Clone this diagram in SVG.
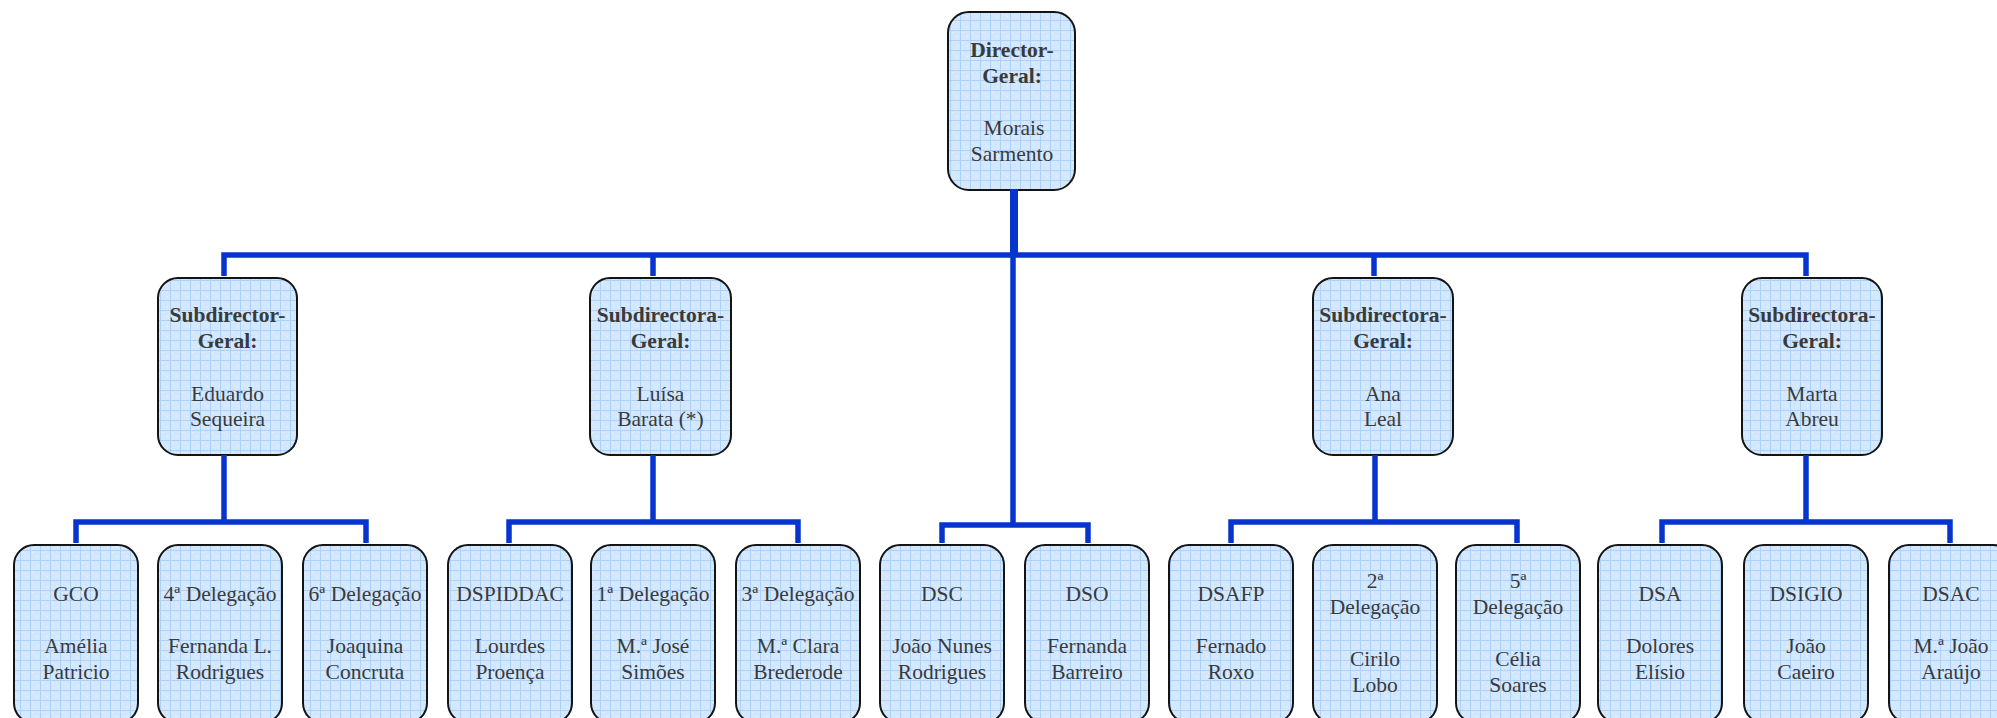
<svg xmlns="http://www.w3.org/2000/svg" width="1997" height="718" viewBox="0 0 1997 718">
<style>
.box{fill:url(#grid);stroke:#141414;stroke-width:2}
text{font-family:"Liberation Serif","Times New Roman",serif;font-size:21.5px;fill:#3a3a3a;text-anchor:middle}
.b{font-weight:bold}
.c{fill:none;stroke:#0634cc;stroke-width:5.5;stroke-linejoin:miter;stroke-linecap:butt}
</style>
<defs>
<pattern id="grid" width="10" height="10" patternUnits="userSpaceOnUse">
<rect width="10" height="10" fill="#d3e8ff"/>
<rect x="2" y="2" width="1" height="1" fill="#ffffff" opacity="0.5"/>
<rect x="7" y="6" width="1" height="1" fill="#ffffff" opacity="0.5"/>
<path d="M0 0.5H10M0.5 0V10" stroke="#add2f9" stroke-width="1"/>
</pattern>
</defs>
<rect width="1997" height="718" fill="#ffffff"/>

<g id="n-dg">
<rect class="box" x="948" y="12" width="127" height="178" rx="21"/>
<text x="1012" y="57" class="b">Director-</text>
<text x="1012" y="82.5" class="b">Geral:</text>
<text x="1014" y="135">Morais</text>
<text x="1012" y="160.5">Sarmento</text>
</g>

<g id="n-sdg1">
<rect class="box" x="158" y="278" width="139" height="177" rx="20"/>
<text x="227.5" y="322" class="b">Subdirector-</text>
<text x="227.5" y="347.5" class="b">Geral:</text>
<text x="227.5" y="400.5">Eduardo</text>
<text x="227.5" y="426">Sequeira</text>
</g>
<g id="n-sdg2">
<rect class="box" x="590" y="278" width="141" height="177" rx="20"/>
<text x="660.5" y="322" class="b">Subdirectora-</text>
<text x="660.5" y="347.5" class="b">Geral:</text>
<text x="660.5" y="400.5">Luísa</text>
<text x="660.5" y="426">Barata (*)</text>
</g>
<g id="n-sdg3">
<rect class="box" x="1313" y="278" width="140" height="177" rx="20"/>
<text x="1383" y="322" class="b">Subdirectora-</text>
<text x="1383" y="347.5" class="b">Geral:</text>
<text x="1383" y="400.5">Ana</text>
<text x="1383" y="426">Leal</text>
</g>
<g id="n-sdg4">
<rect class="box" x="1742" y="278" width="140" height="177" rx="20"/>
<text x="1812" y="322" class="b">Subdirectora-</text>
<text x="1812" y="347.5" class="b">Geral:</text>
<text x="1812" y="400.5">Marta</text>
<text x="1812" y="426">Abreu</text>
</g>

<g id="n-gco">
<rect class="box" x="14" y="545" width="124" height="178" rx="20"/>
<text x="76" y="601">GCO</text>
<text x="76" y="653">Amélia</text>
<text x="76" y="679">Patricio</text>
</g>
<g id="n-d4">
<rect class="box" x="158" y="545" width="124" height="178" rx="20"/>
<text x="220" y="601">4ª Delegação</text>
<text x="220" y="653">Fernanda L.</text>
<text x="220" y="679">Rodrigues</text>
</g>
<g id="n-d6">
<rect class="box" x="303" y="545" width="124" height="178" rx="20"/>
<text x="365" y="601">6ª Delegação</text>
<text x="365" y="653">Joaquina</text>
<text x="365" y="679">Concruta</text>
</g>
<g id="n-dspiddac">
<rect class="box" x="448" y="545" width="124" height="178" rx="20"/>
<text x="510" y="601">DSPIDDAC</text>
<text x="510" y="653">Lourdes</text>
<text x="510" y="679">Proença</text>
</g>
<g id="n-d1">
<rect class="box" x="591" y="545" width="124" height="178" rx="20"/>
<text x="653" y="601">1ª Delegação</text>
<text x="653" y="653">M.ª José</text>
<text x="653" y="679">Simões</text>
</g>
<g id="n-d3">
<rect class="box" x="736" y="545" width="124" height="178" rx="20"/>
<text x="798" y="601">3ª Delegação</text>
<text x="798" y="653">M.ª Clara</text>
<text x="798" y="679">Brederode</text>
</g>
<g id="n-dsc">
<rect class="box" x="880" y="545" width="124" height="178" rx="20"/>
<text x="942" y="601">DSC</text>
<text x="942" y="653">João Nunes</text>
<text x="942" y="679">Rodrigues</text>
</g>
<g id="n-dso">
<rect class="box" x="1025" y="545" width="124" height="178" rx="20"/>
<text x="1087" y="601">DSO</text>
<text x="1087" y="653">Fernanda</text>
<text x="1087" y="679">Barreiro</text>
</g>
<g id="n-dsafp">
<rect class="box" x="1169" y="545" width="124" height="178" rx="20"/>
<text x="1231" y="601">DSAFP</text>
<text x="1231" y="653">Fernado</text>
<text x="1231" y="679">Roxo</text>
</g>
<g id="n-d2">
<rect class="box" x="1313" y="545" width="124" height="178" rx="20"/>
<text x="1375" y="588">2ª</text>
<text x="1375" y="614">Delegação</text>
<text x="1375" y="666">Cirilo</text>
<text x="1375" y="692">Lobo</text>
</g>
<g id="n-d5">
<rect class="box" x="1456" y="545" width="124" height="178" rx="20"/>
<text x="1518" y="588">5ª</text>
<text x="1518" y="614">Delegação</text>
<text x="1518" y="666">Célia</text>
<text x="1518" y="692">Soares</text>
</g>
<g id="n-dsa">
<rect class="box" x="1598" y="545" width="124" height="178" rx="20"/>
<text x="1660" y="601">DSA</text>
<text x="1660" y="653">Dolores</text>
<text x="1660" y="679">Elísio</text>
</g>
<g id="n-dsigio">
<rect class="box" x="1744" y="545" width="124" height="178" rx="20"/>
<text x="1806" y="601">DSIGIO</text>
<text x="1806" y="653">João</text>
<text x="1806" y="679">Caeiro</text>
</g>
<g id="n-dsac">
<rect class="box" x="1889" y="545" width="124" height="178" rx="20"/>
<text x="1951" y="601">DSAC</text>
<text x="1951" y="653">M.ª João</text>
<text x="1951" y="679">Araújo</text>
</g>

<g id="connectors">
<path class="c" d="M1014 189V255" style="stroke-width:8"/>
<path class="c" d="M224 276V255H1806V276M653 255V276M1374 255V276"/>
<path class="c" d="M1013 255V525"/>
<path class="c" d="M942 543V525H1088V543"/>
<path class="c" d="M224 455V522M76 543V522H366V543"/>
<path class="c" d="M653 455V522M509 543V522H798V543"/>
<path class="c" d="M1375 455V522M1231 543V522H1517V543"/>
<path class="c" d="M1806 455V522M1662 543V522H1950V543"/>
</g>
</svg>
